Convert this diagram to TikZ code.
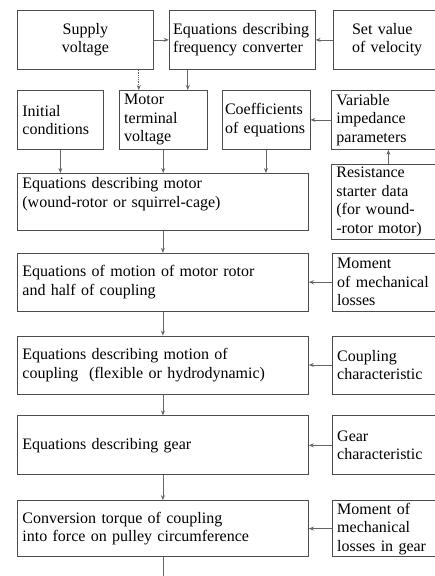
\documentclass[tikz,border=0pt]{standalone}
\usepackage{fontspec}
\setmainfont{Liberation Serif}
\usetikzlibrary{positioning, arrows.meta}

\begin{document}
\begin{tikzpicture}[%
  x = 1pt, y = -1pt,
  block/.style = {rectangle, draw=black!70, line width=.8pt,
                  anchor=north west, align=left,
                  inner xsep=5pt, inner ysep=0pt,
                  text=black, font=\fontsize{16}{18.5}\selectfont},
  wide/.style  = {block, text width=281pt},
  side/.style  = {block, text width=104pt},
  flow/.style  = {-{Stealth[length=5pt, width=4pt]}, draw=black!60,
                  line width=.8pt}
]
  \useasboundingbox (0,0) rectangle (435,576);

  % top row
  \node[block, align=center, text width=126pt, minimum height=59pt]
       (supply) at (17,10) {Supply\\voltage};
  \node[block, inner xsep=4pt, text width=138pt, minimum height=59pt,
        right=15pt of supply.north east, anchor=north west]
       (freq) {Equations describing\\frequency converter};
  \node[block, inner xsep=19pt, text width=80pt, minimum height=59pt,
        right=17pt of freq.north east, anchor=north west]
       (setv) {Set value\\of velocity};

  % second row
  \node[block, text width=76pt, minimum height=59pt]
       (init) at (17,90) {Initial\\conditions};
  \node[block, text width=78pt, minimum height=59pt,
        right=15pt of init.north east, anchor=north west]
       (mtv) {Motor\\terminal\\voltage};
  \node[block, inner xsep=3pt, text width=82pt, minimum height=59pt,
        right=14pt of mtv.north east, anchor=north west]
       (coef) {Coefficients\\of equations};
  \node[side, minimum height=59pt]
       (var) at (331,90) {Variable\\impedance\\parameters};
  \node[side, minimum height=75pt,
        below=14pt of var.south west, anchor=north west]
       (res) {Resistance\\starter data\\(for wound-\\-rotor motor)};

  % main chain
  \node[wide, minimum height=57pt]
       (motor) at (17,173)
       {Equations describing motor\\(wound-rotor or squirrel-cage)\\\mbox{}};
  \node[wide, minimum height=58pt,
        below=22pt of motor.south west, anchor=north west]
       (emot) {Equations of motion of motor rotor\\and half of coupling};
  \node[wide, minimum height=58pt,
        below=24pt of emot.south west, anchor=north west]
       (ecoup) {Equations describing motion of\\coupling~~(flexible or hydrodynamic)};
  \node[wide, minimum height=59pt,
        below=21pt of ecoup.south west, anchor=north west]
       (gear) {Equations describing gear};
  \node[wide, minimum height=56pt,
        below=25pt of gear.south west, anchor=north west]
       (conv) {Conversion torque of coupling\\into force on pulley circumference};

  % side inputs
  \node[side, minimum height=58pt, right=23pt of emot.north east, anchor=north west]
       (mloss) {Moment\\of mechanical\\losses};
  \node[side, minimum height=58pt, right=23pt of ecoup.north east, anchor=north west]
       (cchar) {Coupling\\characteristic};
  \node[side, minimum height=59pt, right=23pt of gear.north east, anchor=north west]
       (gchar) {Gear\\characteristic};
  \node[side, minimum height=56pt, right=23pt of conv.north east, anchor=north west]
       (mgear) {Moment of\\mechanical\\losses in gear};

  \coordinate (sv)  at ([xshift=-15pt]supply.south east);
  \coordinate (fc)  at ([xshift=19pt]freq.south west);
  \coordinate (out) at ([yshift=-24pt]conv.south);

  % Connections
  \draw[flow] (supply) -- (freq);
  \draw[flow] (setv) -- (freq);
  \draw[flow, densely dotted] (sv) -- (sv |- mtv.north);
  \draw[flow] (fc) -- (fc |- mtv.north);
  \draw[flow] (var) -- (coef);
  \draw[flow] (res) -- (var);

  \draw[flow] (init.south) -- (init.south |- motor.north);
  \draw[flow] (mtv.south) -- (mtv.south |- motor.north);
  \draw[flow] (coef.south) -- (coef.south |- motor.north);

  \draw[flow] (motor) -- (emot);
  \draw[flow] (emot) -- (ecoup);
  \draw[flow] (ecoup) -- (gear);
  \draw[flow] (gear) -- (conv);
  \draw[flow] (conv) -- (out);

  \draw[flow] (mloss) -- (emot);
  \draw[flow] (cchar) -- (ecoup);
  \draw[flow] (gchar) -- (gear);
  \draw[flow] (mgear) -- (conv);

\end{tikzpicture}
\end{document}
